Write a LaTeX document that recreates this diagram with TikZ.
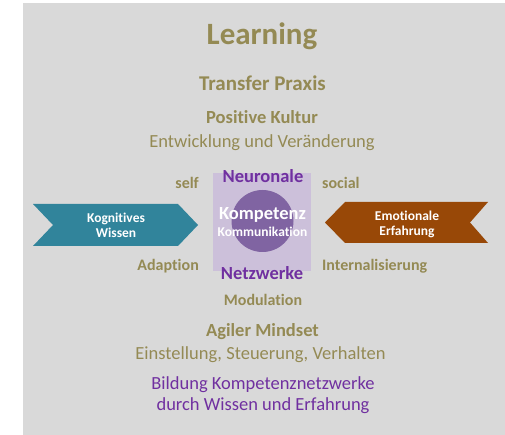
\documentclass[tikz,border=0pt]{standalone}
\usepackage{fontspec}
\setmainfont[Ligatures=NoCommon]{Carlito}
\definecolor{bggray}{HTML}{D9D9D9}
\definecolor{tan}{HTML}{948A54}
\definecolor{neuro}{HTML}{7030A0}
\definecolor{kogteal}{HTML}{31849B}
\definecolor{emobrown}{HTML}{984807}
\definecolor{lavender}{HTML}{CCC0DA}
\definecolor{kernviolet}{HTML}{8064A2}
\usetikzlibrary{positioning}

\begin{document}
\begin{tikzpicture}[x=1pt, y=-1pt,
  title/.style   = {font=\fontsize{31}{31}\selectfont\bfseries  , text=tan  , inner sep=0pt, anchor=base},
  head/.style    = {font=\fontsize{21}{21}\selectfont\bfseries  , text=tan  , inner sep=0pt, anchor=base},
  sub/.style     = {font=\fontsize{18.5}{18.5}\selectfont\bfseries, text=tan, inner sep=0pt, anchor=base},
  plain/.style   = {font=\fontsize{18.5}{18.5}\selectfont, text=tan     , inner sep=0pt, anchor=base},
  tag/.style     = {font=\fontsize{16}{16}\selectfont\bfseries  , text=tan  , inner sep=0pt},
  neuron/.style  = {font=\fontsize{18.5}{18.5}\selectfont\bfseries, text=neuro, inner sep=0pt, anchor=base},
  inner/.style   = {font=\fontsize{13.5}{14.7}\selectfont\bfseries, text=white, inner sep=0pt, align=center},
  ]
  \useasboundingbox (0,0) rectangle (505,435);
  \fill[bggray] (23,3) rectangle (505,435);
  % chevrons
  \fill[kogteal]  (33,204) -- (178,204) -- (198,225) -- (178,246) -- (33,246) -- (53,225) -- cycle;
  \fill[emobrown] (488,202) -- (345,202) -- (325,222.5) -- (345,243) -- (488,243) -- (470,222.5) -- cycle;
  \node[inner, anchor=base] (kog) at (116,237.7) {Kognitives\\Wissen};
  \node[inner, anchor=base] (emo) at (407,235.7) {Emotionale\\Erfahrung};
  % center
  \node[rectangle, fill=lavender, minimum width=98pt, minimum height=98pt, inner sep=0pt] (feld) at (262,222) {};
  \node[circle, fill=kernviolet, minimum size=62pt, inner sep=0pt] (kern) at (262.5,221) {};
  \node[inner, font=\fontsize{18.5}{18.5}\selectfont\bfseries, anchor=base] (komp) at (262.5,219.3) {Kompetenz};
  \node[inner, anchor=base] (komm) at (262.5,236.7) {Kommunikation};
  \node[neuron] (neur) at (263,182.7) {Neuronale};
  \node[neuron] (netz) at (262,279) {Netzwerke};
  % labels
  \node[tag, anchor=base east] (self)   at (199,188.5) {self};
  \node[tag, anchor=base west] (social) at (322,188.5) {social};
  \node[tag, anchor=base east] (adapt)  at (199,270) {Adaption};
  \node[tag, anchor=base west] (intern) at (322,270) {Internalisierung};
  \node[tag, anchor=base] (modul) at (263,305.7) {Modulation};
  % column
  \node[title] (learn)    at (262,45) {Learning};
  \node[head]  (transfer) at (262.5,90.7) {Transfer Praxis};
  \node[sub]   (kultur)   at (262,124) {Positive Kultur};
  \node[plain] (entw)     at (262,147.3) {Entwicklung und Veränderung};
  \node[sub]   (agil)     at (262.5,336) {Agiler Mindset};
  \node[plain] (einst)    at (260.5,359.3) {Einstellung, Steuerung, Verhalten};
  \node[plain, text=neuro] (bild)  at (263,389.3) {Bildung Kompetenznetzwerke};
  \node[plain, text=neuro] (durch) at (263,410.7) {durch Wissen und Erfahrung};
\end{tikzpicture}
\end{document}
